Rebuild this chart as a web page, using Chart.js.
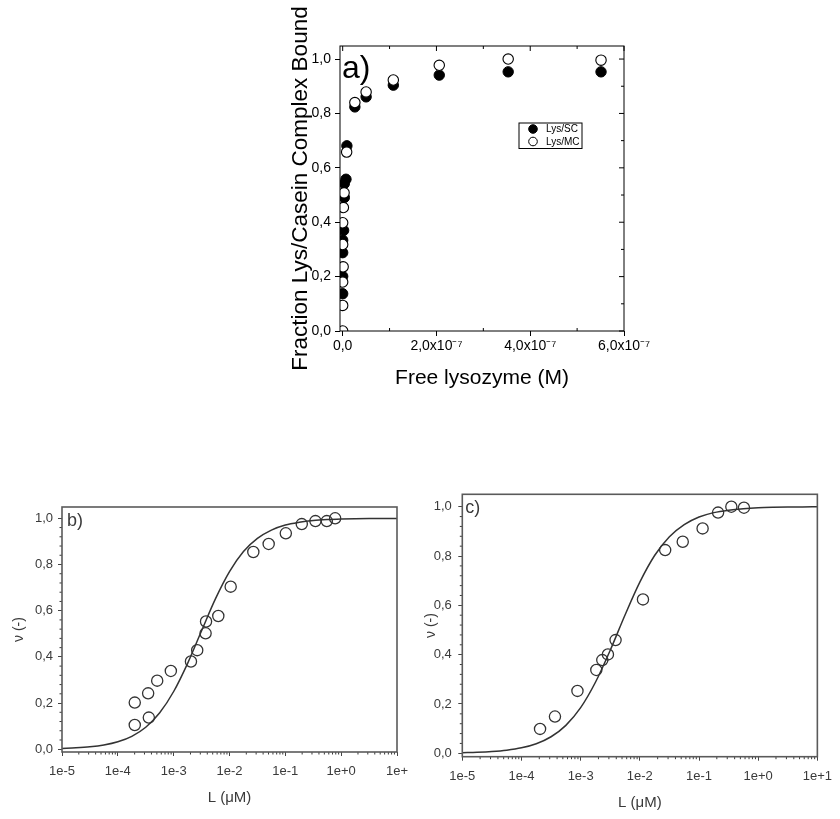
<!DOCTYPE html>
<html><head><meta charset="utf-8">
<script src="https://cdn.jsdelivr.net/npm/chart.js@4.4.1/dist/chart.umd.min.js"></script>
<style>
html,body{margin:0;padding:0;background:#fff;width:840px;height:819px;overflow:hidden;position:relative}
canvas{position:absolute}
</style></head><body>
<canvas id="ca" width="390" height="400" style="left:270px;top:0px"></canvas>
<canvas id="cb" width="420" height="339" style="left:0px;top:480px"></canvas>
<canvas id="cc" width="420" height="349" style="left:420px;top:470px"></canvas>
<script>
// ---------- Panel a: fraction bound vs free lysozyme (M) ----------
const aSC_x = [0, 0, 0, 0, 2e-9, 3.5e-9, 3.5e-9, 7e-9, 9e-9, 2.6e-8, 5.0e-8, 1.08e-7, 2.06e-7, 3.53e-7, 5.51e-7];
const aSC_y = [0.137, 0.201, 0.288, 0.334, 0.370, 0.491, 0.542, 0.558, 0.681, 0.824, 0.861, 0.904, 0.941, 0.953, 0.953];
const aMC_x = [0, 0, 0, 1e-9, 0, 0, 1.5e-9, 3e-9, 8.5e-9, 2.6e-8, 5.0e-8, 1.08e-7, 2.06e-7, 3.53e-7, 5.51e-7];
const aMC_y = [0.0, 0.094, 0.180, 0.236, 0.318, 0.398, 0.454, 0.508, 0.658, 0.840, 0.879, 0.923, 0.977, 1.0, 0.996];
const aSeriesNames = ['Lys/SC', 'Lys/MC'];
const aXTicks = [0, 2e-7, 4e-7, 6e-7];
const aXLabels = ['0,0', '2,0x10\u207B\u2077', '4,0x10\u207B\u2077', '6,0x10\u207B\u2077'];
const aXMinor = [1e-7, 3e-7, 5e-7];
const aYTicks = [0, 0.2, 0.4, 0.6, 0.8, 1.0];
const aYLabels = ['0,0', '0,2', '0,4', '0,6', '0,8', '1,0'];
const aYMinor = [0.1, 0.3, 0.5, 0.7, 0.9];

// ---------- Panel b: nu vs L (uM) ----------
const bPts_x = [2.01e-4, 2.01e-4, 3.59e-4, 3.49e-4, 5.07e-4, 8.9e-4, 2.04e-3, 2.64e-3, 3.73e-3, 3.8e-3, 6.3e-3, 1.05e-2, 2.67e-2, 5.03e-2, 0.102, 0.197, 0.346, 0.553, 0.78];
const bPts_y = [0.105, 0.202, 0.137, 0.242, 0.297, 0.339, 0.380, 0.429, 0.502, 0.553, 0.577, 0.704, 0.854, 0.889, 0.935, 0.975, 0.988, 0.988, 1.0];
const fit_x = [1e-5, 1.778e-5, 3.162e-5, 5.623e-5, 1e-4, 1.778e-4, 3.162e-4, 5.623e-4, 1e-3, 1.778e-3, 3.162e-3, 5.623e-3, 1e-2, 1.778e-2, 3.162e-2, 5.623e-2, 0.1, 0.1778, 0.3162, 0.5623, 1, 1.778, 3.162, 5.623, 10];
const bFit_y = [0.0033, 0.0059, 0.0104, 0.0184, 0.0323, 0.0560, 0.0954, 0.1579, 0.250, 0.372, 0.513, 0.652, 0.769, 0.856, 0.913, 0.949, 0.971, 0.983, 0.9906, 0.9947, 0.997, 0.9983, 0.9991, 0.9995, 0.9997];

// ---------- Panel c ----------
const cPts_x = [2.06e-4, 3.68e-4, 8.83e-4, 1.84e-3, 2.32e-3, 2.89e-3, 3.89e-3, 1.13e-2, 2.68e-2, 5.31e-2, 0.115, 0.21, 0.352, 0.575];
const cPts_y = [0.099, 0.149, 0.253, 0.338, 0.378, 0.401, 0.459, 0.624, 0.824, 0.858, 0.912, 0.976, 1.0, 0.996];
const cFit_y = [0.0023, 0.0040, 0.0071, 0.0126, 0.0222, 0.0388, 0.0671, 0.1133, 0.185, 0.288, 0.418, 0.561, 0.694, 0.802, 0.878, 0.927, 0.958, 0.976, 0.986, 0.992, 0.9956, 0.9975, 0.9986, 0.9992, 0.9996];

const logTicks = [1e-5, 1e-4, 1e-3, 1e-2, 1e-1, 1, 10];
const bXLabels = ['1e-5', '1e-4', '1e-3', '1e-2', '1e-1', '1e+0', '1e+'];
const cXLabels = ['1e-5', '1e-4', '1e-3', '1e-2', '1e-1', '1e+0', '1e+1'];
const nuYTicks = [0, 0.2, 0.4, 0.6, 0.8, 1.0];
const nuYLabels = ['0,0', '0,2', '0,4', '0,6', '0,8', '1,0'];

// minor tick positions
const nuYMinor = [];
for (let k = 1; k < 25; k++) { if (k % 5 !== 0) nuYMinor.push(k * 0.04); }
const logMinor = [];
for (let d = -5; d < 1; d++) for (let m = 2; m <= 9; m++) logMinor.push(m * Math.pow(10, d));

const FONT = "'Liberation Sans', Arial, sans-serif";
const pts = (xs, ys) => xs.map((x, i) => ({x: x, y: ys[i]}));

const deco = {
  id: 'deco',
  afterDraw(chart, args, o) {
    const ctx = chart.ctx, ca = chart.chartArea;
    const sx = chart.scales.x, sy = chart.scales.y;
    ctx.save();
    ctx.strokeStyle = o.color; ctx.lineWidth = 1;
    (o.ticks || []).forEach(t => {
      const sc = (t.side === 'left' || t.side === 'right') ? sy : sx;
      t.values.forEach(v => {
        const p = sc.getPixelForValue(v);
        ctx.beginPath();
        if (t.side === 'left') { const x0 = ca.left; const x1 = t.out ? x0 - t.len : x0 + t.len; ctx.moveTo(x0, p); ctx.lineTo(x1, p); }
        if (t.side === 'right') { const x0 = ca.right; const x1 = t.out ? x0 + t.len : x0 - t.len; ctx.moveTo(x0, p); ctx.lineTo(x1, p); }
        if (t.side === 'bottom') { const y0 = ca.bottom; const y1 = t.out ? y0 + t.len : y0 - t.len; ctx.moveTo(p, y0); ctx.lineTo(p, y1); }
        if (t.side === 'top') { const y0 = ca.top; const y1 = t.out ? y0 - t.len : y0 + t.len; ctx.moveTo(p, y0); ctx.lineTo(p, y1); }
        ctx.stroke();
      });
    });
    ctx.lineWidth = o.frameWidth;
    ctx.strokeStyle = o.frameColor;
    ctx.strokeRect(ca.left, ca.top, ca.right - ca.left, ca.bottom - ca.top);
    if (o.label) {
      ctx.fillStyle = o.color;
      ctx.font = o.label.size + 'px ' + FONT;
      ctx.textBaseline = 'alphabetic'; ctx.textAlign = 'left';
      ctx.fillText(o.label.text, ca.left + o.label.dx, ca.top + o.label.dy);
    }
    if (o.legend) {
      const L = o.legend;
      const bx = ca.left + L.dx, by = ca.top + L.dy;
      ctx.lineWidth = 1; ctx.strokeStyle = '#000';
      ctx.strokeRect(bx, by, L.w, L.h);
      chart.data.datasets.forEach((ds, i) => {
        const cy = by + 6 + i * 12.5;
        ctx.beginPath(); ctx.arc(bx + 14, cy, 4.3, 0, Math.PI * 2);
        ctx.fillStyle = ds.pointBackgroundColor; ctx.fill();
        ctx.strokeStyle = ds.pointBorderColor; ctx.stroke();
        ctx.fillStyle = '#000'; ctx.font = '10px ' + FONT; ctx.textBaseline = 'middle';
        ctx.fillText(ds.label, bx + 27, cy + 0.5);
      });
    }
    ctx.restore();
  }
};

// ---------------- Chart a ----------------
new Chart(document.getElementById('ca'), {
  type: 'scatter',
  plugins: [deco],
  data: { datasets: [
    { label: aSeriesNames[0], data: pts(aSC_x, aSC_y), pointRadius: 5.2, pointBackgroundColor: '#000', pointBorderColor: '#000', pointBorderWidth: 1, order: 2 },
    { label: aSeriesNames[1], data: pts(aMC_x, aMC_y), pointRadius: 5.2, pointBackgroundColor: '#fff', pointBorderColor: '#000', pointBorderWidth: 1.1, order: 1 }
  ]},
  options: {
    responsive: false, animation: false, devicePixelRatio: 1,
    layout: { padding: { top: 46, right: 36, left: 0, bottom: 0 } },
    plugins: { legend: { display: false }, tooltip: { enabled: false },
      deco: { color: '#000', frameColor: '#000', frameWidth: 1,
        ticks: [
          { side: 'bottom', values: aXMinor, len: 3, out: false },
          { side: 'top', values: aXTicks, len: 5, out: false },
          { side: 'top', values: aXMinor, len: 3, out: false },
          { side: 'right', values: aYTicks, len: 5, out: false },
          { side: 'right', values: aYMinor, len: 3, out: false }
        ],
        label: { text: 'a)', size: 32, dx: 2, dy: 32 },
        legend: { dx: 179, dy: 77, w: 63, h: 25.5 } } },
    scales: {
      x: { type: 'linear', min: -5.7e-9, max: 6e-7, bounds: 'data',
        afterFit: s => { s.height = 69; },
        afterBuildTicks: s => { s.ticks = aXTicks.map(v => ({ value: v })); },
        grid: { display: true, drawOnChartArea: false, drawTicks: true, tickLength: 5, tickColor: '#000' },
        border: { display: false },
        ticks: { padding: 2, color: '#000', font: { family: FONT, size: 14 }, maxRotation: 0, autoSkip: false,
          callback: (v, i) => aXLabels[i] },
        title: { display: true, text: 'Free lysozyme (M)', color: '#000', font: { family: FONT, size: 21 }, padding: { top: 0, bottom: 9 } } },
      y: { type: 'linear', min: 0, max: 1.048, bounds: 'data',
        afterFit: s => { s.width = 70; },
        afterBuildTicks: s => { s.ticks = aYTicks.map(v => ({ value: v })); },
        grid: { display: true, drawOnChartArea: false, drawTicks: true, tickLength: 5, tickColor: '#000' },
        border: { display: false },
        ticks: { padding: 4, color: '#000', font: { family: FONT, size: 14 }, autoSkip: false,
          callback: (v, i) => aYLabels[i] },
        title: { display: true, text: 'Fraction Lys/Casein Complex Bound', color: '#000', font: { family: FONT, size: 22.5 }, padding: { top: 17, bottom: 0 } } }
    }
  }
});

// ---------------- Chart b / c ----------------
function nuChart(id, ptsX, ptsY, fitY, xLabels, geo, lab) {
  new Chart(document.getElementById(id), {
    type: 'scatter',
    plugins: [deco],
    data: { datasets: [
      { label: 'fit', data: pts(fit_x, fitY), showLine: true, pointRadius: 0, borderColor: '#333', borderWidth: 1.5, cubicInterpolationMode: 'monotone', order: 2 },
      { label: 'data', data: pts(ptsX, ptsY), pointRadius: 5.6, pointBackgroundColor: 'rgba(0,0,0,0)', pointBorderColor: '#333', pointBorderWidth: 1.3, order: 1 }
    ]},
    options: {
      responsive: false, animation: false, devicePixelRatio: 1,
      layout: { padding: { top: geo.top, right: geo.right, left: 0, bottom: 0 } },
      plugins: { legend: { display: false }, tooltip: { enabled: false },
        deco: { color: '#3a3a3a', frameColor: '#5a5a5a', frameWidth: 1.6,
          ticks: [
            { side: 'left', values: nuYMinor, len: 2.5, out: true },
            { side: 'bottom', values: logMinor, len: 2.5, out: true }
          ],
          label: { text: lab, size: 18, dx: geo.labDx, dy: 19 } } },
      scales: {
        x: { type: 'logarithmic', min: 1e-5, max: 10, bounds: 'data',
          afterFit: s => { s.height = geo.xh; },
          afterBuildTicks: s => { s.ticks = logTicks.map(v => ({ value: v })); },
          grid: { display: true, drawOnChartArea: false, drawTicks: true, tickLength: 4, tickColor: '#444' },
          border: { display: false },
          ticks: { padding: 8, color: '#3a3a3a', font: { family: FONT, size: 13 }, maxRotation: 0, autoSkip: false,
            callback: (v, i) => xLabels[i] },
          title: { display: true, text: 'L (\u03BCM)', color: '#3a3a3a', font: { family: FONT, size: 15 }, padding: { top: 0, bottom: geo.xtb } } },
        y: { type: 'linear', min: geo.ymin, max: geo.ymax, bounds: 'data',
          afterFit: s => { s.width = geo.yw; },
          afterBuildTicks: s => { s.ticks = nuYTicks.map(v => ({ value: v })); },
          grid: { display: true, drawOnChartArea: false, drawTicks: true, tickLength: 4, tickColor: '#444' },
          border: { display: false },
          ticks: { padding: geo.ypad, color: '#3a3a3a', font: { family: FONT, size: 13 }, autoSkip: false,
            callback: (v, i) => nuYLabels[i] },
          title: { display: true, text: '\u03BD (-)', color: '#3a3a3a', font: { family: FONT, size: 14 }, padding: { top: geo.ytp, bottom: 0 } } }
      }
    }
  });
}

nuChart('cb', bPts_x, bPts_y, bFit_y, bXLabels,
  { top: 27, right: 23, xh: 67, yw: 62, ymin: -0.012, ymax: 1.049, ypad: 5, ytp: 10.6, xtb: 12, labDx: 5 }, 'b)');
nuChart('cc', cPts_x, cPts_y, cFit_y, cXLabels,
  { top: 24.3, right: 20, xh: 62.3, yw: 42.3, ymin: -0.0138, ymax: 1.0503, ypad: 6.5, ytp: 2.6, xtb: 6.7, labDx: 3 }, 'c)');
</script>
</body></html>
